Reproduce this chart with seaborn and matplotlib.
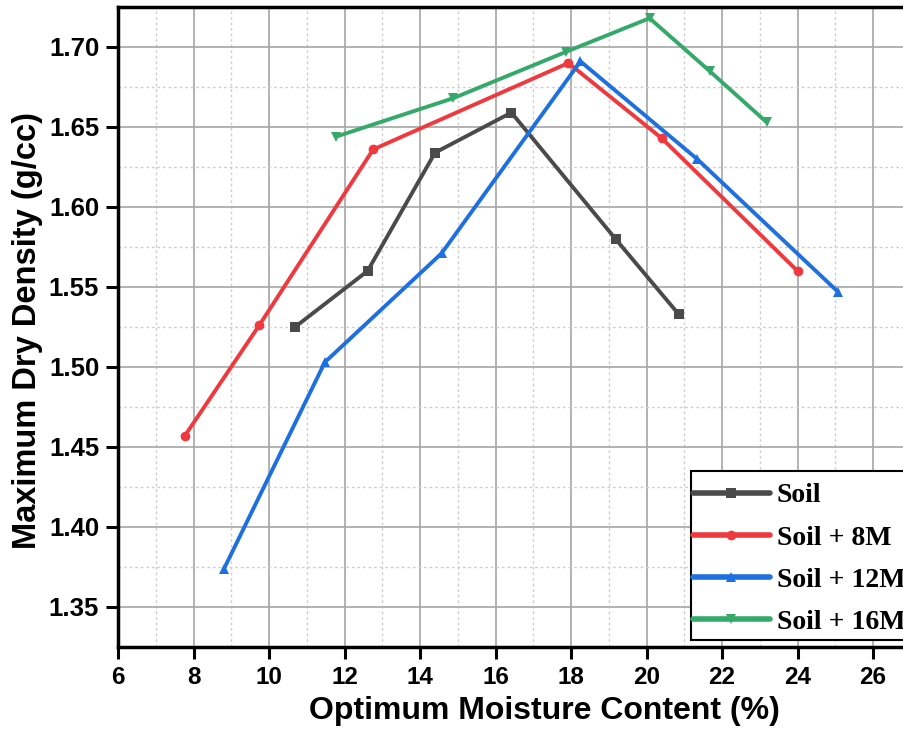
import matplotlib
matplotlib.use("Agg")
import matplotlib.pyplot as plt
from matplotlib.ticker import MultipleLocator, FormatStrFormatter
from matplotlib.patches import Rectangle
import seaborn as sns
import pandas as pd

series_names = ["Soil", "Soil + 8M", "Soil + 12M", "Soil + 16M"]
soil_x = [10.69, 12.61, 14.40, 16.42, 19.18, 20.85]
soil_y = [1.525, 1.560, 1.634, 1.659, 1.580, 1.533]
m8_x = [7.77, 9.74, 12.76, 17.93, 20.40, 24.00]
m8_y = [1.457, 1.526, 1.636, 1.690, 1.643, 1.560]
m12_x = [8.81, 11.48, 14.57, 18.25, 21.34, 25.07]
m12_y = [1.374, 1.503, 1.571, 1.691, 1.630, 1.547]
m16_x = [11.78, 14.88, 17.87, 20.08, 21.67, 23.18]
m16_y = [1.644, 1.668, 1.697, 1.718, 1.685, 1.653]

colors = ["#4a4a4a", "#f0393e", "#1e6fe0", "#35a96a"]
markers = ["s", "o", "^", "v"]

frames = []
for name, xs, ys in zip(series_names, [soil_x, m8_x, m12_x, m16_x],
                        [soil_y, m8_y, m12_y, m16_y]):
    frames.append(pd.DataFrame({"x": xs, "y": ys, "series": name}))
df = pd.concat(frames, ignore_index=True)

sns.set_theme(style="white")
plt.rcParams['font.family'] = ['Liberation Sans', 'DejaVu Sans']
plt.rcParams['font.weight'] = 'bold'
plt.rcParams['text.color'] = 'black'
plt.rcParams['axes.labelcolor'] = 'black'
plt.rcParams['xtick.color'] = 'black'
plt.rcParams['ytick.color'] = 'black'

fig = plt.figure(figsize=(9.04, 7.30), dpi=100)
ax = fig.add_axes([118/904, 83/730, (904-118)/904, 640/730])

sns.lineplot(data=df, x="x", y="y", hue="series", style="series",
             hue_order=series_names, style_order=series_names,
             palette=dict(zip(series_names, colors)),
             markers=dict(zip(series_names, markers)),
             dashes=False, sort=False, estimator=None, units="series",
             linewidth=2.8, markersize=7, markeredgewidth=0,
             ax=ax, zorder=3)

ax.set_xlim(6, 26.82)
ax.set_ylim(1.325, 1.725)
ax.xaxis.set_major_locator(MultipleLocator(2))
ax.xaxis.set_minor_locator(MultipleLocator(1))
ax.yaxis.set_major_locator(MultipleLocator(0.05))
ax.yaxis.set_minor_locator(MultipleLocator(0.025))
ax.yaxis.set_major_formatter(FormatStrFormatter('%.2f'))

ax.grid(which="major", color="#a6a6a6", linewidth=1.2, linestyle="-", zorder=0)
ax.grid(which="minor", color="#cfcfcf", linewidth=1.0, linestyle=(0, (2, 2)), zorder=0)
ax.set_axisbelow(True)

for s in ["left", "bottom", "top"]:
    ax.spines[s].set_linewidth(2.5)
    ax.spines[s].set_color("black")
ax.spines["right"].set_visible(False)

ax.tick_params(which="major", direction="out", length=8.5, width=2.2,
               color="black", left=True, bottom=True, pad=5)
ax.tick_params(axis="x", labelsize=17.5)
ax.tick_params(axis="y", labelsize=18.5)
ax.tick_params(which="minor", length=0)
for lab in ax.get_xticklabels() + ax.get_yticklabels():
    lab.set_fontweight("bold")

ax.set_xlabel("Optimum Moisture Content (%)", fontsize=23, fontweight="bold")
ax.xaxis.set_label_coords(0.542, -0.076)
ax.set_ylabel("Maximum Dry Density (g/cc)", fontsize=23.5, fontweight="bold")
ax.yaxis.set_label_coords(-0.095, 0.495)

handles, labels = ax.get_legend_handles_labels()
leg = ax.legend(handles, labels, loc="upper left",
                bbox_to_anchor=(693/904, 1 - 483/730), bbox_transform=fig.transFigure,
                borderaxespad=0, frameon=False, handlelength=2.77, handletextpad=0.25,
                labelspacing=0.6, borderpad=0,
                prop={"family": "Liberation Serif", "weight": "bold", "size": 20})
for line in leg.get_lines():
    line.set_linewidth(4)

frame = Rectangle((691/904, 1 - 640/730), (915-691)/904, (640-471)/730,
                  transform=fig.transFigure, fill=True, facecolor="white",
                  edgecolor="black", linewidth=1.5, zorder=4)
fig.add_artist(frame)
leg.set_zorder(5)
fig.add_artist(leg)

fig.savefig("out.png", dpi=100)
